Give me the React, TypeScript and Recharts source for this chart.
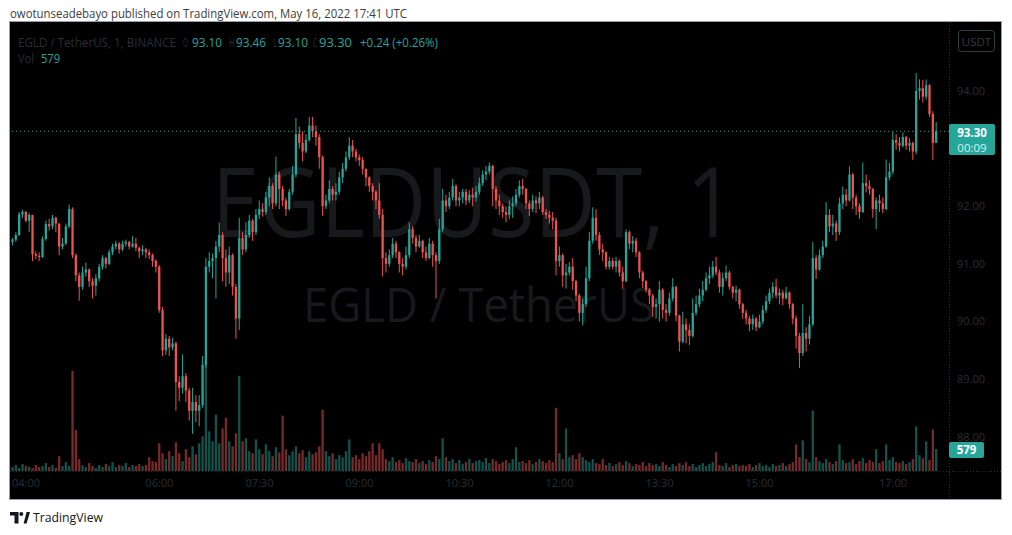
import React from 'react';
import { ComposedChart, Bar, XAxis, YAxis, ReferenceLine } from 'recharts';

// 3-minute candles [open, high, low, close], starting 03:48 (UTC)
const seg0 = [
  [91.38,91.45,91.32,91.42],[91.42,91.55,91.38,91.50],[91.50,91.90,91.48,91.86],[91.86,91.94,91.80,91.90],[91.90,91.92,91.72,91.75],
  [91.75,91.88,91.55,91.85],[91.85,91.85,91.05,91.17],[91.17,91.22,91.08,91.14],[91.14,91.20,91.05,91.12],[91.12,91.48,91.10,91.43],
  [91.43,91.75,91.40,91.69],[91.69,91.78,91.58,91.65],[91.65,91.85,91.60,91.80],[91.80,91.82,91.55,91.70],[91.70,91.70,91.15,91.30],
  [91.30,91.45,91.25,91.35],[91.35,91.70,91.32,91.65],[91.65,92.03,91.62,91.95],[91.95,91.98,91.10,91.15],[91.15,91.18,90.70,90.80],
];
const seg1 = [
  [90.80,90.85,90.36,90.60],[90.60,90.95,90.55,90.85],[90.85,91.02,90.78,90.90],[90.90,90.92,90.60,90.70],[90.70,90.75,90.40,90.62],
  [90.62,90.82,90.45,90.75],[90.75,91.00,90.70,90.95],[90.95,91.15,90.90,91.10],[91.10,91.12,90.92,91.00],[91.00,91.25,90.98,91.20],
  [91.20,91.35,91.15,91.30],[91.30,91.40,91.25,91.35],[91.35,91.38,91.18,91.25],[91.25,91.40,91.22,91.35],[91.35,91.42,91.30,91.38],
  [91.38,91.40,91.25,91.30],[91.30,91.48,91.28,91.35],[91.35,91.45,91.22,91.28],[91.28,91.30,91.10,91.22],[91.22,91.32,91.15,91.25],
];
const seg2 = [
  [91.25,91.28,91.10,91.20],[91.20,91.25,91.08,91.15],[91.15,91.18,90.95,91.05],[91.05,91.08,90.85,90.95],[90.95,90.98,90.15,90.20],
  [90.20,90.25,89.40,89.50],[89.50,89.78,89.42,89.70],[89.70,89.75,89.40,89.55],[89.55,89.72,89.50,89.62],[89.62,89.65,88.45,88.95],
  [88.95,89.05,88.62,88.85],[88.85,89.43,88.75,89.05],[89.05,89.10,88.60,88.80],[88.80,88.85,88.28,88.45],[88.45,88.85,88.05,88.60],
  [88.60,88.72,88.25,88.45],[88.45,88.72,88.18,88.55],[88.55,89.40,88.50,89.25],[89.25,91.10,89.20,90.95],[90.95,91.20,90.85,91.05],
];
const seg3 = [
  [91.05,91.18,90.75,91.10],[91.10,91.40,90.40,91.30],[91.30,91.72,91.20,91.50],[91.50,91.55,90.70,91.10],[91.10,91.25,90.60,90.85],
  [90.85,91.30,90.65,91.15],[91.15,91.18,90.45,90.60],[90.60,90.65,89.70,90.05],[90.05,91.80,89.85,91.45],[91.45,91.55,91.15,91.25],
  [91.25,91.72,91.20,91.50],[91.50,91.85,91.45,91.75],[91.75,91.78,91.40,91.55],[91.55,91.95,91.50,91.85],[91.85,92.10,91.78,91.95],
  [91.95,92.05,91.82,91.90],[91.90,92.25,91.85,92.15],[92.15,92.50,92.00,92.35],[92.35,92.40,91.95,92.05],[92.05,92.86,92.00,92.55],
];
const seg4 = [
  [92.55,92.60,91.95,92.30],[92.30,92.35,92.00,92.10],[92.10,92.15,91.83,91.95],[91.95,92.30,91.92,92.25],[92.25,92.70,92.20,92.55],
  [92.55,93.53,92.50,93.25],[93.25,93.38,93.00,93.10],[93.10,93.30,92.78,92.95],[92.95,93.25,92.92,93.15],[93.15,93.55,93.12,93.40],
  [93.40,93.55,93.20,93.30],[93.30,93.40,93.05,93.20],[93.20,93.25,92.65,92.85],[92.85,92.88,91.83,92.00],[92.00,92.20,91.95,92.10],
  [92.10,92.45,92.05,92.30],[92.30,92.35,92.10,92.20],[92.20,92.40,92.10,92.25],[92.25,92.60,92.20,92.50],[92.50,92.75,92.40,92.65],
];
const seg5 = [
  [92.65,92.95,92.60,92.85],[92.85,93.20,92.80,93.05],[93.05,93.15,92.85,92.95],[92.95,93.00,92.78,92.85],[92.85,92.90,92.70,92.80],
  [92.80,92.85,92.55,92.65],[92.65,92.65,92.35,92.50],[92.50,92.52,92.25,92.35],[92.35,92.40,92.10,92.25],[92.25,92.28,91.95,92.10],
  [92.10,92.40,91.78,91.85],[91.85,91.95,90.78,91.10],[91.10,91.20,90.85,91.00],[91.00,91.25,90.95,91.15],[91.15,91.45,91.10,91.35],
  [91.35,91.40,91.10,91.20],[91.20,91.22,90.85,91.00],[91.00,91.10,90.80,90.95],[90.95,91.30,90.90,91.15],[91.15,91.72,91.10,91.60],
];
const seg6 = [
  [91.60,91.65,91.35,91.45],[91.45,91.50,91.20,91.30],[91.30,91.50,91.28,91.40],[91.40,91.42,91.10,91.20],[91.20,91.30,91.05,91.10],
  [91.10,91.45,91.08,91.35],[91.35,91.40,90.95,91.15],[91.15,91.20,90.40,91.05],[91.05,91.78,91.00,91.60],[91.60,92.30,91.55,92.10],
  [92.10,92.20,91.90,92.00],[92.00,92.25,91.95,92.15],[92.15,92.47,92.10,92.35],[92.35,92.38,92.00,92.10],[92.10,92.25,92.00,92.15],
  [92.15,92.30,92.05,92.25],[92.25,92.30,92.02,92.10],[92.10,92.28,92.05,92.20],[92.20,92.32,92.00,92.15],[92.15,92.35,92.08,92.25],
];
const seg7 = [
  [92.25,92.50,92.20,92.40],[92.40,92.62,92.35,92.55],[92.55,92.70,92.45,92.60],[92.60,92.76,92.55,92.70],[92.70,92.72,92.00,92.30],
  [92.30,92.35,91.95,92.10],[92.10,92.20,91.85,92.00],[92.00,92.05,91.80,91.90],[91.90,92.00,91.72,91.85],[91.85,92.10,91.78,92.00],
  [92.00,92.17,91.80,92.05],[92.05,92.30,92.00,92.20],[92.20,92.45,92.15,92.35],[92.35,92.47,92.20,92.30],[92.30,92.32,91.95,92.05],
  [92.05,92.10,91.83,91.95],[91.95,92.20,91.90,92.10],[92.10,92.17,91.88,92.05],[92.05,92.25,91.95,92.15],[92.15,92.18,91.85,91.90],
];
const seg8 = [
  [91.90,91.95,91.78,91.85],[91.85,91.92,91.70,91.80],[91.80,91.90,91.60,91.75],[91.75,91.80,90.80,91.05],[91.05,91.30,90.95,91.15],
  [91.15,91.18,90.60,90.80],[90.80,91.00,90.57,90.85],[90.85,91.03,90.80,90.95],[90.95,91.10,90.55,90.70],[90.70,90.72,90.35,90.45],
  [90.45,90.48,90.00,90.15],[90.15,90.40,89.93,90.30],[90.30,90.95,90.25,90.75],[90.75,91.55,90.70,91.40],[91.40,91.98,91.35,91.80],
  [91.80,91.95,91.40,91.50],[91.50,91.55,91.15,91.25],[91.25,91.35,91.05,91.20],[91.20,91.22,90.90,90.95],[90.95,91.12,90.90,91.05],
];
const seg9 = [
  [91.05,91.10,90.90,90.95],[90.95,91.12,90.85,91.05],[91.05,91.08,90.78,90.85],[90.85,90.95,90.57,90.70],[90.70,91.60,90.68,91.55],
  [91.55,91.58,91.25,91.35],[91.35,91.48,91.20,91.40],[91.40,91.45,91.12,91.20],[91.20,91.22,90.75,90.85],[90.85,90.88,90.58,90.70],
  [90.70,90.72,90.50,90.55],[90.55,90.58,90.30,90.45],[90.45,90.48,90.08,90.25],[90.25,90.40,90.05,90.30],[90.30,90.70,90.00,90.55],
  [90.55,90.58,90.05,90.20],[90.20,90.30,90.00,90.15],[90.15,90.50,90.10,90.40],[90.40,90.75,90.35,90.60],[90.60,90.62,90.00,90.10],
];
const seg10 = [
  [90.10,90.12,89.48,89.65],[89.65,90.17,89.62,89.95],[89.95,90.05,89.62,89.85],[89.85,89.95,89.59,89.75],[89.75,90.40,89.72,90.15],
  [90.15,90.45,90.10,90.30],[90.30,90.57,90.25,90.45],[90.45,90.70,90.35,90.55],[90.55,90.85,90.52,90.75],[90.75,90.95,90.65,90.80],
  [90.80,91.05,90.75,90.95],[90.95,91.12,90.80,90.85],[90.85,90.90,90.50,90.60],[90.60,90.85,90.45,90.75],[90.75,90.97,90.70,90.85],
  [90.85,90.88,90.55,90.60],[90.60,90.62,90.40,90.50],[90.50,90.62,90.35,90.55],[90.55,90.57,90.22,90.30],[90.30,90.32,90.05,90.15],
];
const seg11 = [
  [90.15,90.20,89.95,90.05],[90.05,90.10,89.83,89.95],[89.95,90.12,89.85,90.05],[90.05,90.08,89.83,89.90],[89.90,90.12,89.88,90.00],
  [90.00,90.28,89.95,90.20],[90.20,90.45,90.15,90.35],[90.35,90.57,90.30,90.50],[90.50,90.68,90.40,90.60],[90.60,90.74,90.40,90.45],
  [90.45,90.57,90.30,90.50],[90.50,90.55,90.28,90.40],[90.40,90.60,90.38,90.50],[90.50,90.52,90.22,90.30],[90.30,90.32,89.95,90.05],
  [90.05,90.10,89.53,89.75],[89.75,89.80,89.19,89.45],[89.45,90.30,89.40,89.80],[89.80,89.90,89.48,89.70],[89.70,90.10,89.60,89.95],
];
const seg12 = [
  [89.95,91.38,89.92,91.10],[91.10,91.15,90.74,90.90],[90.90,91.25,90.88,91.15],[91.15,91.40,91.10,91.30],[91.30,92.07,91.28,91.85],
  [91.85,91.95,91.55,91.65],[91.65,91.85,91.50,91.70],[91.70,91.75,91.40,91.55],[91.55,92.15,91.50,92.05],[92.05,92.34,91.95,92.20],
  [92.20,92.30,92.00,92.10],[92.10,92.69,92.08,92.55],[92.55,92.58,91.95,92.15],[92.15,92.20,91.85,92.00],[92.00,92.05,91.78,91.90],
  [91.90,92.76,91.88,92.40],[92.40,92.55,92.24,92.35],[92.35,92.45,92.20,92.30],[92.30,92.32,91.80,91.95],[91.95,92.15,91.60,92.10],
];
const seg13 = [
  [92.10,92.20,91.90,92.05],[92.05,92.15,91.88,91.95],[91.95,92.81,91.93,92.50],[92.50,92.75,92.45,92.60],[92.60,93.30,92.55,93.15],
  [93.15,93.25,92.98,93.10],[93.10,93.20,92.95,93.05],[93.05,93.28,93.02,93.20],[93.20,93.22,92.98,93.05],[93.05,93.18,92.95,93.10],
  [93.10,93.12,92.80,92.95],[92.95,94.31,92.90,94.00],[94.00,94.20,93.85,94.05],[94.05,94.19,93.80,93.90],[93.90,94.20,93.85,94.10],
  [94.10,94.12,93.55,93.60],[93.60,93.65,92.80,93.10],[93.10,93.46,93.10,93.30],
];

// volumes per candle
const vol0 = [104,156,78,182,130,104,78,156,104,130,208,104,156,78,390,130,234,130,2630,1080];
const vol1 = [312,156,104,208,130,78,156,104,182,130,234,104,156,130,208,104,156,130,182,130];
const vol2 = [156,364,260,234,728,468,312,520,390,754,468,260,572,364,650,442,728,910,2860,1040];
const vol3 = [780,1480,728,1120,1400,780,650,990,2500,780,860,520,468,830,572,442,700,520,390,624];
const vol4 = [494,1456,572,416,520,650,468,546,364,520,442,494,650,1610,520,390,468,312,416,364];
const vol5 = [520,830,364,416,312,468,390,520,730,416,730,572,312,260,364,234,286,208,338,260];
const vol6 = [234,312,208,260,182,286,234,390,312,860,364,260,312,208,286,182,234,312,208,260];
const vol7 = [286,234,338,208,312,260,182,234,286,208,312,624,234,260,208,286,182,234,312,260];
const vol8 = [208,286,234,1660,468,312,1120,364,416,312,468,364,286,234,312,208,182,312,156,208];
const vol9 = [130,182,234,156,260,208,130,182,156,234,130,208,156,182,130,234,156,104,182,130];
const vol10 = [208,156,234,130,182,104,156,208,130,182,234,494,156,130,208,104,156,182,130,156];
const vol11 = [130,182,104,156,208,130,156,104,182,130,156,208,130,182,234,700,364,806,312,234];
const vol12 = [1590,364,260,208,312,234,182,260,700,286,208,234,312,182,260,338,208,286,234,572];
const vol13 = [208,260,700,286,364,234,208,260,182,234,312,1170,416,338,780,286,1092,579];

const START_MIN = 3 * 60 + 48;
const PERIOD_MIN = 3;
const timeTicks = ['04:00', '06:00', '07:30', '09:00', '10:30', '12:00', '13:30', '15:00', '17:00'];
// 93.00 and 95.00 sit under the last-price and currency badges in the reference
const priceTicks = [88, 89, 90, 91, 92, 94];
const priceDomain = [87.405, 95.197];
const volDomain = [0, 11800];
const lastPrice = 93.3;

const ohlc = [...seg0, ...seg1, ...seg2, ...seg3, ...seg4, ...seg5, ...seg6, ...seg7, ...seg8, ...seg9, ...seg10, ...seg11, ...seg12, ...seg13];
const vols = [...vol0, ...vol1, ...vol2, ...vol3, ...vol4, ...vol5, ...vol6, ...vol7, ...vol8, ...vol9, ...vol10, ...vol11, ...vol12, ...vol13];

const pad = (n: number) => String(n).padStart(2, '0');
const data = ohlc.map((k, i) => {
  const m = START_MIN + i * PERIOD_MIN;
  return {
    t: `${pad(Math.floor(m / 60))}:${pad(m % 60)}`,
    o: k[0], h: k[1], l: k[2], c: k[3],
    range: [k[2], k[1]],
    v: vols[i],
  };
});

const UP = '#26a69a';
const DOWN = '#ef5350';
const UP_VOL = 'rgba(38,166,154,0.5)';
const DOWN_VOL = 'rgba(239,83,80,0.5)';
const DIM = '#2a2d35';
const FONT = '"Open Sans", "Liberation Sans", sans-serif';

const CandleShape = (props: any) => {
  const { x, y, width, height, payload } = props;
  if (x == null || y == null || !payload) return null;
  const { o, h, l, c } = payload;
  const color = c >= o ? UP : DOWN;
  const top = Math.min(y, y + height);
  const hh = Math.abs(height);
  const k = h > l ? hh / (h - l) : 0;
  const bTop = top + (h - Math.max(o, c)) * k;
  const bBot = top + (h - Math.min(o, c)) * k;
  const cx = x + width / 2;
  const bw = 2.3;
  return (
    <g>
      <line x1={cx} x2={cx} y1={top} y2={top + hh} stroke={color} strokeWidth={1} />
      <rect x={cx - bw / 2} y={bTop} width={bw} height={Math.max(1, bBot - bTop)} fill={color} />
    </g>
  );
};

const VolShape = (props: any) => {
  const { x, y, width, height, payload } = props;
  if (x == null || y == null || !payload) return null;
  const color = payload.c >= payload.o ? UP_VOL : DOWN_VOL;
  const cx = x + width / 2;
  const bw = 2.3;
  return <rect x={cx - bw / 2} y={Math.min(y, y + height)} width={bw} height={Math.abs(height)} fill={color} />;
};

const LT = (p: { x: number; w: number; fill: string; y?: number; children: React.ReactNode }) => (
  <text x={p.x} y={p.y ?? 25} fill={p.fill} textLength={p.w} lengthAdjust="spacingAndGlyphs">{p.children}</text>
);

export default function App() {
  return (
    <div style={{ position: 'absolute', left: 0, top: 0, width: 1012, height: 535, background: '#fff', overflow: 'hidden', fontFamily: FONT }}>
      <svg width={1012} height={535} style={{ position: 'absolute', left: 0, top: 0 }}>
        <text x={10} y={18} fontSize={12.5} fill="#3d3d3d" fontFamily={FONT} textLength={397} lengthAdjust="spacingAndGlyphs">
          owotunseadebayo published on TradingView.com, May 16, 2022 17:41 UTC
        </text>
        <rect x={9.5} y={21.5} width={992} height={478} fill="#000" stroke="#9a9da6" strokeWidth={1} />
        <path d="M10,512 H18.5 V523.5 H14.5 V515.5 H10 Z" fill="#131722" />
        <circle cx={21.3} cy={514} r={2} fill="#131722" />
        <path d="M23.6,523.5 L26.6,512 H30 L26.6,523.5 Z" fill="#131722" />
        <text x={33} y={522} fontSize={12.5} fill="#131722" fontFamily={FONT} textLength={70} lengthAdjust="spacingAndGlyphs">TradingView</text>
      </svg>

      <div style={{ position: 'absolute', left: 10, top: 22, width: 991, height: 477, overflow: 'hidden' }}>
        <svg width={991} height={477} style={{ position: 'absolute', left: 0, top: 0 }}>
          <text x={202} y={215} fontSize={97} fill="#18191d" fontFamily={FONT} textLength={523} lengthAdjust="spacingAndGlyphs">EGLDUSDT, 1</text>
          <text x={293} y={300} fontSize={47} fill="#18191d" fontFamily={FONT} textLength={352} lengthAdjust="spacingAndGlyphs">EGLD / TetherUS</text>
        </svg>

        <div style={{ position: 'absolute', left: 0, top: 0 }}>
          <ComposedChart
            width={991}
            height={477}
            data={data}
            margin={{ top: 0, right: 0, bottom: 0, left: 0 }}
            barSize={3}
            barGap={-3}
          >
            <XAxis
              dataKey="t"
              ticks={timeTicks}
              interval={0}
              axisLine={false}
              tickLine={false}
              height={28}
              padding={{ left: 1, right: 11 }}
              tick={{ fill: DIM, fontSize: 11, fontFamily: FONT }}
            />
            <YAxis
              yAxisId="price"
              orientation="right"
              width={52}
              domain={priceDomain}
              allowDataOverflow
              ticks={priceTicks}
              interval={0}
              tickFormatter={(v: number) => v.toFixed(2)}
              axisLine={false}
              tickLine={false}
              tick={{ fill: DIM, fontSize: 11, fontFamily: FONT }}
            />
            <YAxis yAxisId="vol" hide domain={volDomain} allowDataOverflow />
            <Bar yAxisId="vol" dataKey="v" shape={VolShape} isAnimationActive={false} barSize={3} />
            <ReferenceLine yAxisId="price" y={lastPrice} stroke={UP} strokeDasharray="1 3" strokeWidth={1} />
            <Bar yAxisId="price" dataKey="range" shape={CandleShape} isAnimationActive={false} barSize={3} />
          </ComposedChart>
        </div>

        <svg width={991} height={477} style={{ position: 'absolute', left: 0, top: 0, pointerEvents: 'none' }}>
          <line x1={939.5} x2={939.5} y1={0} y2={477} stroke="#2a2e39" strokeDasharray="1 2" />
          <line x1={0} x2={991} y1={449.5} y2={449.5} stroke="#2a2e39" strokeDasharray="1 2" />

          <g fontFamily={FONT} fontSize={12}>
            <LT x={8} w={158} fill={DIM}>EGLD / TetherUS, 1, BINANCE</LT>
            <LT x={173} w={5} fill={DIM}>O</LT>
            <LT x={182} w={30} fill={UP}>93.10</LT>
            <LT x={219} w={5.5} fill={DIM}>H</LT>
            <LT x={226} w={30} fill={UP}>93.46</LT>
            <LT x={263} w={4} fill={DIM}>L</LT>
            <LT x={268} w={30} fill={UP}>93.10</LT>
            <LT x={303} w={4.5} fill={DIM}>C</LT>
            <LT x={309} w={33} fill={UP}>93.30</LT>
            <LT x={350} w={78} fill={UP}>+0.24 (+0.26%)</LT>
            <LT x={8} y={41} w={16} fill={DIM}>Vol</LT>
            <LT x={31} y={41} w={19} fill={UP}>579</LT>
          </g>

          <rect x={948.5} y={8.5} width={36} height={21} rx={3} fill="#000" stroke="#27433f" />
          <text x={966.5} y={23.5} fontSize={11.5} textAnchor="middle" fill="#363c44" fontFamily={FONT}>USDT</text>

          <rect x={939} y={102} width={46} height={31} rx={2} fill={UP} />
          <text x={962} y={114.5} fontSize={11.5} fontWeight={700} textAnchor="middle" fill="#ffffff" fontFamily={FONT}>93.30</text>
          <text x={962} y={130} fontSize={11.5} textAnchor="middle" fill="#d6f0ed" fontFamily={FONT}>00:09</text>

          <rect x={939} y={420} width={35} height={16} rx={2} fill={UP} />
          <text x={956.5} y={432} fontSize={11.5} fontWeight={700} textAnchor="middle" fill="#ffffff" fontFamily={FONT}>579</text>
        </svg>
      </div>
    </div>
  );
}
